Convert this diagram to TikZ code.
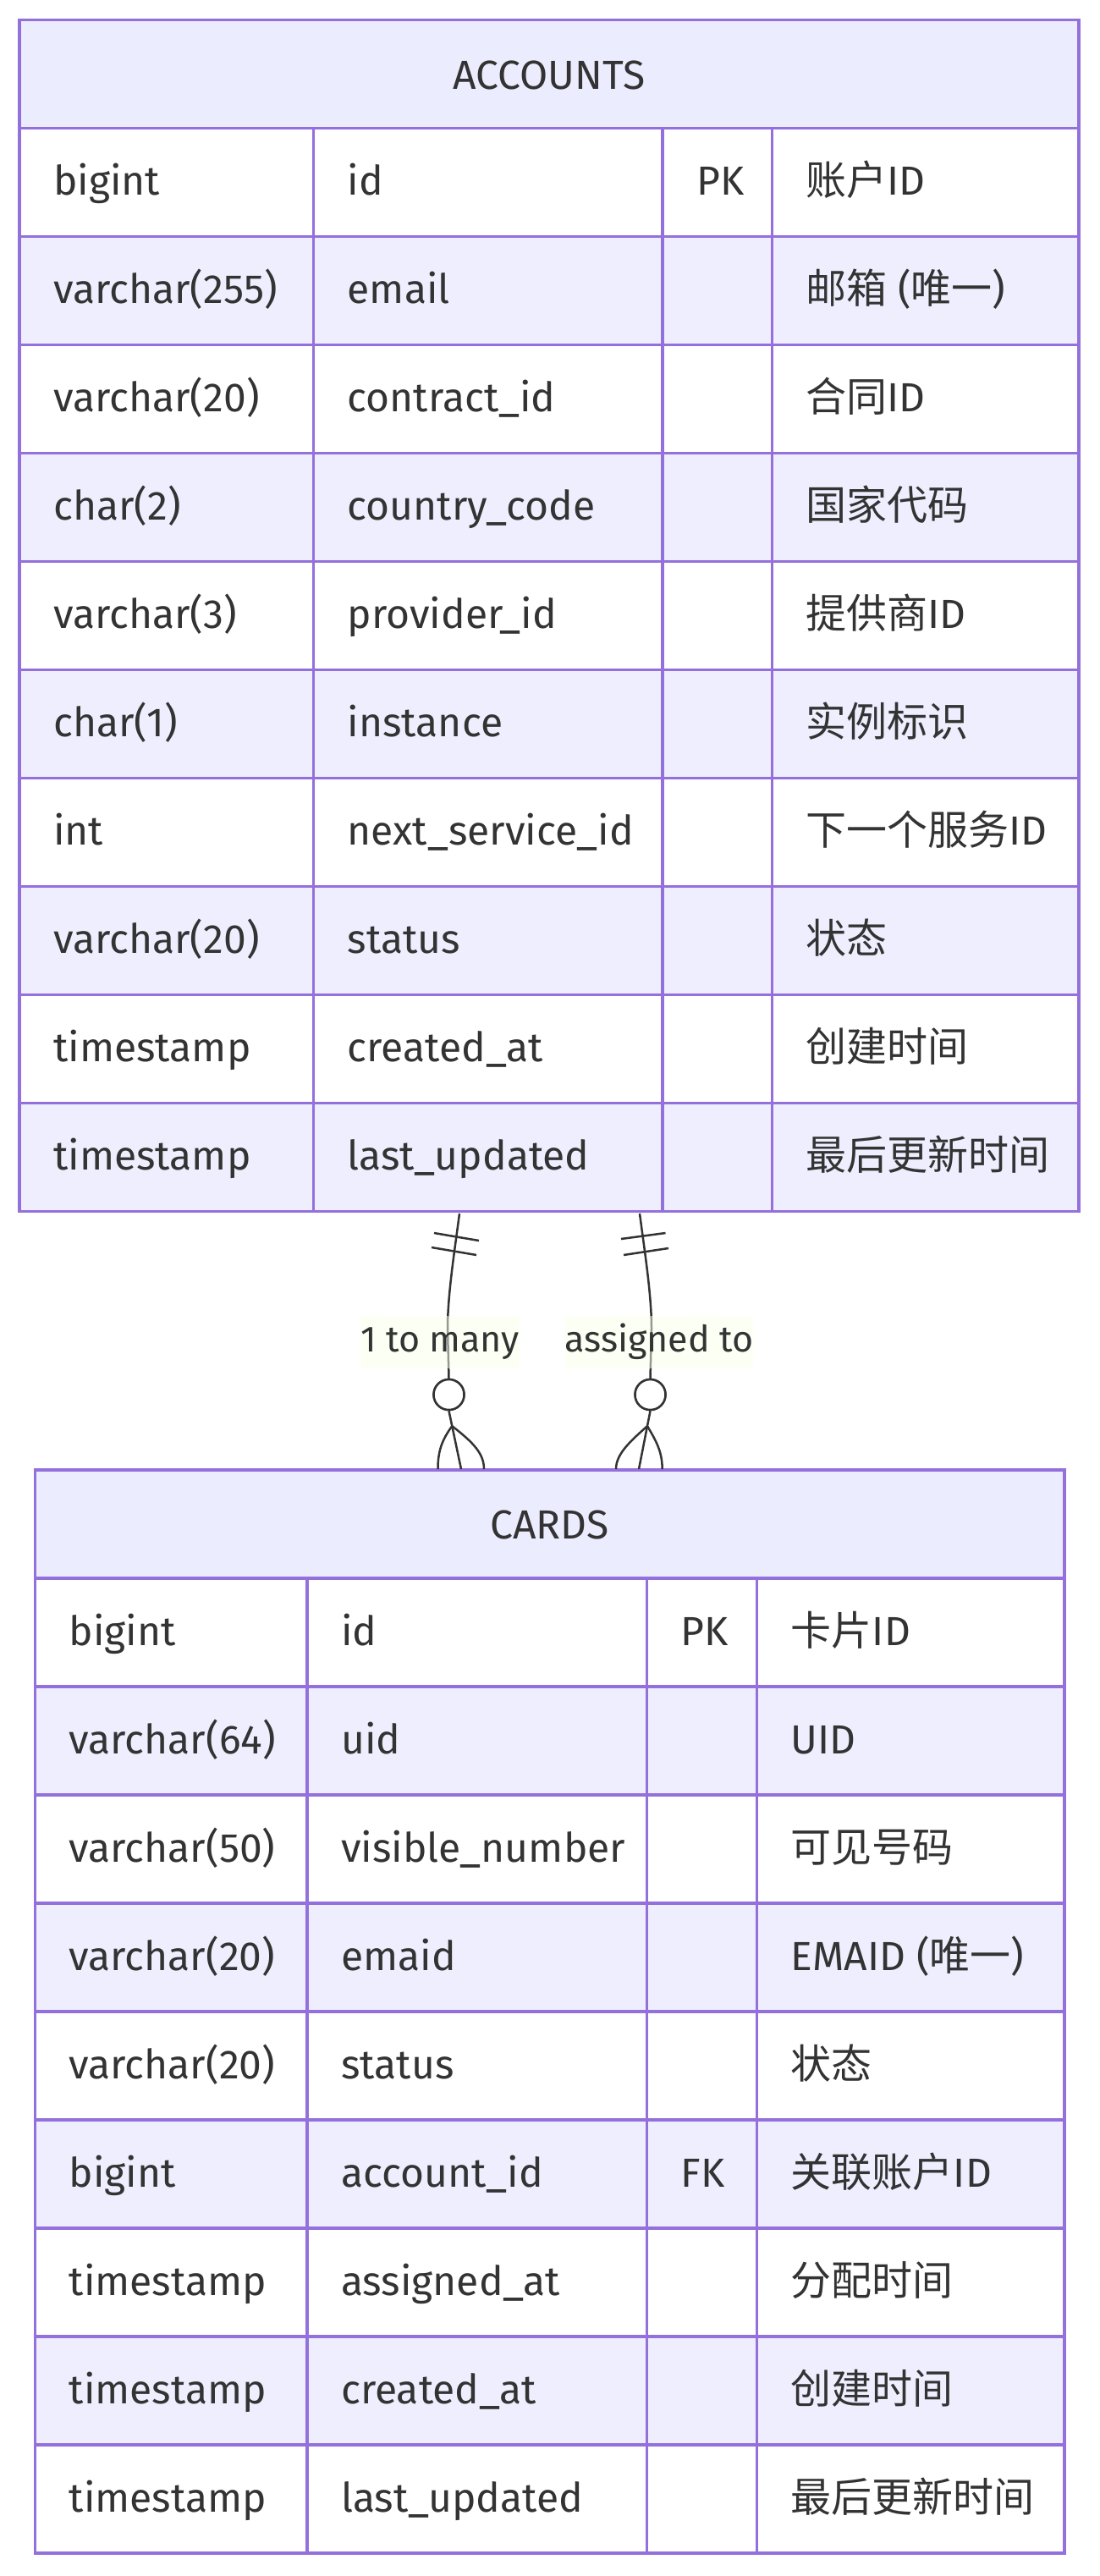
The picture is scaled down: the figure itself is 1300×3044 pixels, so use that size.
\documentclass[tikz,border=0pt]{standalone}
\usepackage{fontspec}
\setmainfont{Fira Sans}
\newfontfamily\zhfont{Noto Sans CJK SC}
\newcommand\zh[1]{{\zhfont #1}}
\usetikzlibrary{calc}
\definecolor{bd}{HTML}{9370DB}
\definecolor{hd}{HTML}{ECECFF}
\definecolor{ev}{HTML}{EEEEFE}
\definecolor{tx}{HTML}{333333}
\definecolor{lb}{HTML}{F8FFEB}
\newcommand\erow[6]{%
  \pgfmathsetmacro\rt{\Ttop+128*#2}%
  \pgfmathsetmacro\rb{\rt+128}%
  \pgfmathsetmacro\rc{\rt+64+15}%
  \pgfmathtruncatemacro\isodd{mod(#2,2)}%
  \ifnum\isodd=1 \def\rf{white}\else\def\rf{ev}\fi
  \fill[\rf] (\Xa,\rt) rectangle (\Xe,\rb);
  \node[cell] (#1-#2-1) at (\Xa+40,\rc) {#3};
  \node[cell] (#1-#2-2) at (\Xb+40,\rc) {#4};
  \node[cell] (#1-#2-3) at (\Xc+40,\rc) {#5};
  \node[cell] (#1-#2-4) at (\Xd+40,\rc) {#6};
}
\newcommand\egrid[1]{%
  \pgfmathsetmacro\hb{\Ttop+128}%
  \pgfmathsetmacro\tb{\Ttop+128*(#1+1)}%
  \foreach \k in {1,...,#1} {\draw[grid] (\Xa,\Ttop+128*\k) -- (\Xe,\Ttop+128*\k);}
  \draw[grid] (\Xb,\hb) -- (\Xb,\tb);
  \draw[grid] (\Xc,\hb) -- (\Xc,\tb);
  \draw[grid] (\Xd,\hb) -- (\Xd,\tb);
  \draw[grid] (\Xa,\Ttop) rectangle (\Xe,\tb);
}
\begin{document}
\begin{tikzpicture}[x=1pt,y=-1pt,
  font=\fontsize{48}{58}\selectfont,
  cell/.style={anchor=base west,inner sep=0pt,text=tx},
  hdr/.style={fill=hd,inner sep=0pt,text=tx,text height=35pt,text depth=0pt},
  grid/.style={draw=bd,line width=3.2pt},
  rel/.style={draw=tx,line width=2.5pt},
  ring/.style={circle,draw=tx,line width=2.5pt,fill=white,minimum size=36pt,inner sep=0pt},
  lbl/.style={fill=lb,fill opacity=0.5,text opacity=1,text=tx,inner sep=0pt,minimum height=62pt,text height=31pt,text depth=9pt,font=\fontsize{43}{52}\selectfont}]
\useasboundingbox (0,0) rectangle (1300,3044);
\fill[white] (0,0) rectangle (1300,3044);
% ACCOUNTS
\def\Ttop{23.5}\def\Xa{23}\def\Xb{370.5}\def\Xc{783}\def\Xd{912.5}\def\Xe{1275}
\node[hdr,minimum width=1252pt,minimum height=128pt] (acc) at (649,87.5) {ACCOUNTS};
\erow{a}{1}{bigint}{id}{PK}{\zh{账户}ID}
\erow{a}{2}{varchar(255)}{email}{}{\zh{邮箱} (\zh{唯一})}
\erow{a}{3}{varchar(20)}{contract\_id}{}{\zh{合同}ID}
\erow{a}{4}{char(2)}{country\_code}{}{\zh{国家代码}}
\erow{a}{5}{varchar(3)}{provider\_id}{}{\zh{提供商}ID}
\erow{a}{6}{char(1)}{instance}{}{\zh{实例标识}}
\erow{a}{7}{int}{next\_service\_id}{}{\zh{下一个服务}ID}
\erow{a}{8}{varchar(20)}{status}{}{\zh{状态}}
\erow{a}{9}{timestamp}{created\_at}{}{\zh{创建时间}}
\erow{a}{10}{timestamp}{last\_updated}{}{\zh{最后更新时间}}
\egrid{10}
% CARDS
\def\Ttop{1737}\def\Xa{41.5}\def\Xb{363}\def\Xc{764.5}\def\Xd{894.7}\def\Xe{1258}
\node[hdr,minimum width=1216.5pt,minimum height=128pt] (cards) at (649.75,1801) {CARDS};
\erow{c}{1}{bigint}{id}{PK}{\zh{卡片}ID}
\erow{c}{2}{varchar(64)}{uid}{}{UID}
\erow{c}{3}{varchar(50)}{visible\_number}{}{\zh{可见号码}}
\erow{c}{4}{varchar(20)}{emaid}{}{EMAID (\zh{唯一})}
\erow{c}{5}{varchar(20)}{status}{}{\zh{状态}}
\erow{c}{6}{bigint}{account\_id}{FK}{\zh{关联账户}ID}
\erow{c}{7}{timestamp}{assigned\_at}{}{\zh{分配时间}}
\erow{c}{8}{timestamp}{created\_at}{}{\zh{创建时间}}
\erow{c}{9}{timestamp}{last\_updated}{}{\zh{最后更新时间}}
\egrid{9}
% relationships
\coordinate (r1s) at (543,1434);
\coordinate (r1e) at (545,1736);
\coordinate (r2s) at (756,1434);
\coordinate (r2e) at (755,1736);
\node[ring] (c1) at (530.5,1648) {};
\node[ring] (c2) at (768.5,1648) {};
\draw[rel] (r1s) .. controls (537,1480) and (529,1530) .. (529,1570) -- (c1.north);
\draw[rel] (r2s) .. controls (762,1480) and (770,1530) .. (770,1570) -- (c2.north);
\draw[rel] (c1.south) -- (r1e);
\draw[rel] (c2.south) -- (r2e);
\coordinate (f1) at ($(c1.south)!0.26!(r1e)$);
\coordinate (f2) at ($(c2.south)!0.26!(r2e)$);
\draw[rel] (f1) .. controls (522,1702) and (517.5,1715) .. (517.5,1736);
\draw[rel] (f1) .. controls (560,1705) and (572,1718) .. (572,1736);
\draw[rel] (f2) .. controls (745,1703) and (728,1718) .. (728,1736);
\draw[rel] (f2) .. controls (775,1702) and (782.7,1715) .. (782.7,1736);
\draw[rel] (513,1457) -- (566,1466);
\draw[rel] (510,1474) -- (563,1483);
\draw[rel] (734,1464) -- (786.5,1457);
\draw[rel] (737,1483) -- (790,1475);
\node[ring] at (c1) {};
\node[ring] at (c2) {};
\node[lbl,minimum width=186pt] (l1) at (520,1586) {1 to many};
\node[lbl,minimum width=210pt] (l2) at (779,1586) {assigned to};
\end{tikzpicture}
\end{document}
